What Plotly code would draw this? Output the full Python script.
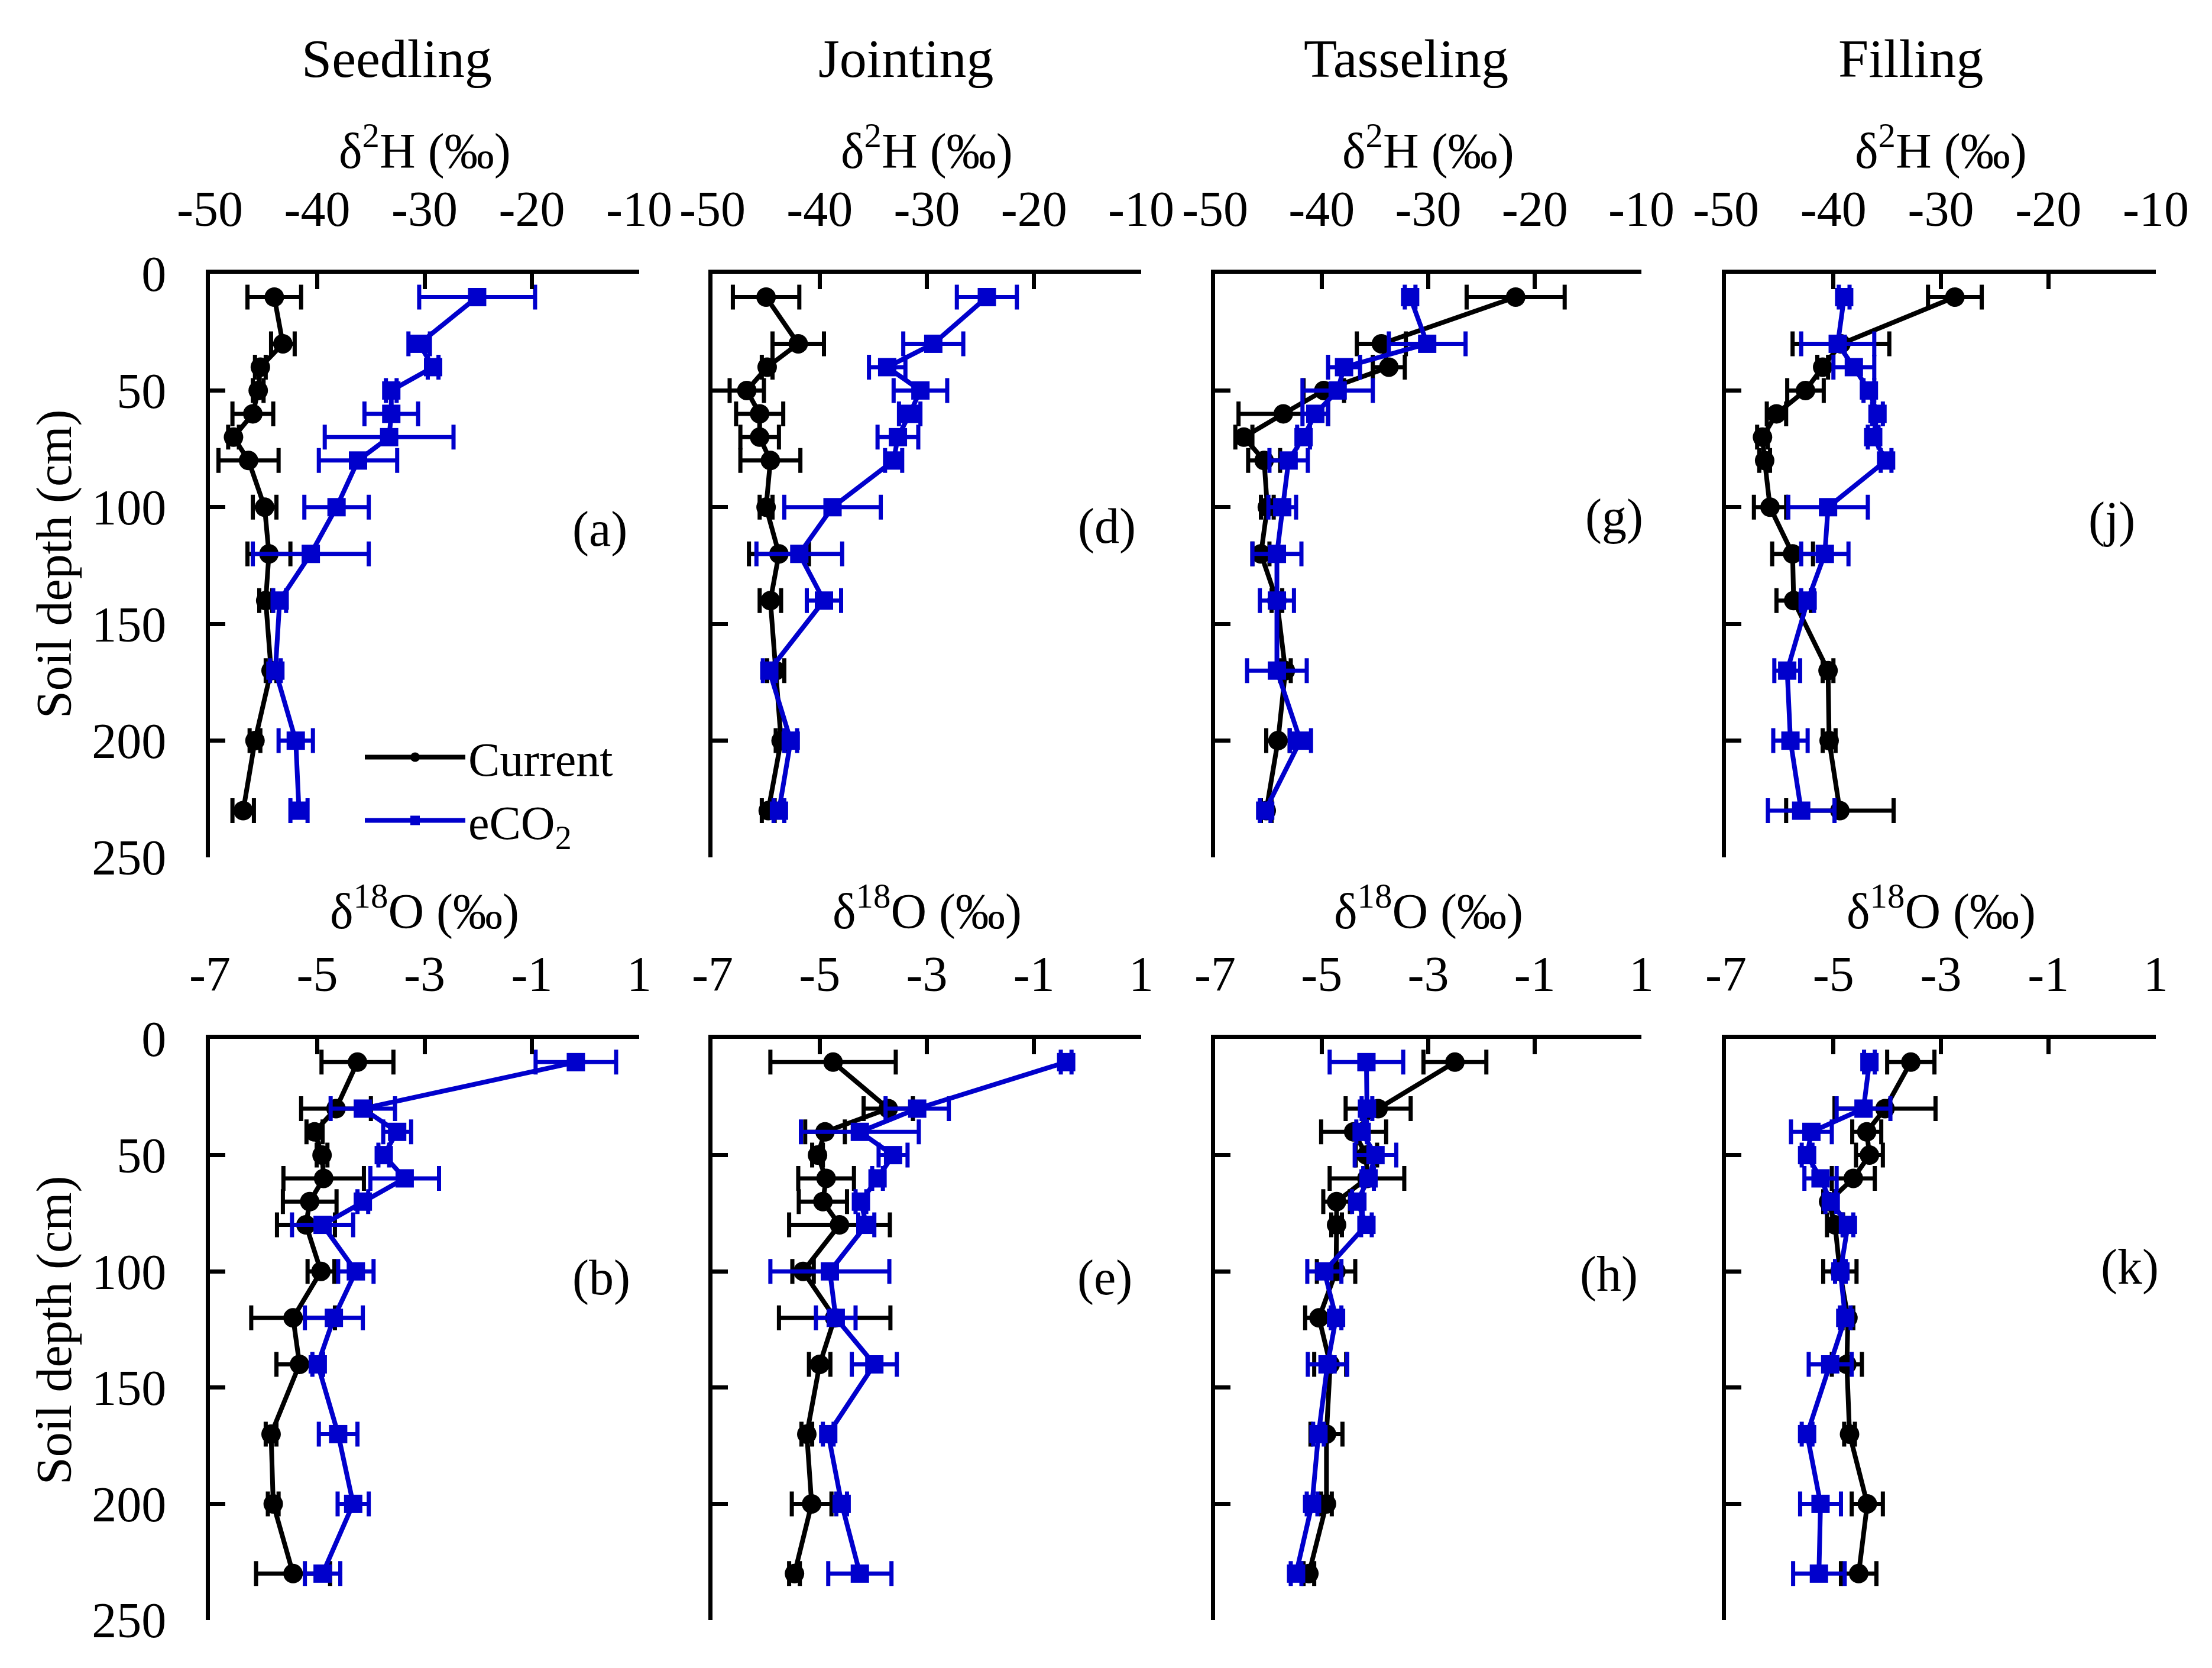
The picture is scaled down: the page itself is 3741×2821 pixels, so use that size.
import plotly.graph_objects as go

W, H = 3741, 2821

depth = [10, 30, 40, 50, 60, 70, 80, 100, 120, 140, 170, 200, 230]

stages = ["Seedling", "Jointing", "Tasseling", "Filling"]
top_labels = ["(a)", "(d)", "(g)", "(j)"]
bottom_labels = ["(b)", "(e)", "(h)", "(k)"]

h_ticks = [-50, -40, -30, -20, -10]
o_ticks = [-7, -5, -3, -1, 1]
depth_ticks = [0, 50, 100, 150, 200, 250]

# delta 2H (per mil), current vs eCO2, with error bars
h_seed_cur = [-44.0, -43.2, -45.3, -45.5, -46.0, -47.8, -46.4, -44.9, -44.5, -44.8, -44.3, -45.8, -46.9]
h_seed_cur_err = [2.5, 1.1, 0.5, 0.5, 1.9, 0.5, 2.8, 1.1, 2.0, 0.6, 0.5, 0.5, 1.0]
h_seed_eco = [-25.1, -30.5, -29.2, -33.1, -33.1, -33.3, -36.2, -38.2, -40.6, -43.5, -43.9, -42.0, -41.7]
h_seed_eco_err = [5.4, 1.0, 0.5, 0.5, 2.5, 6.0, 3.65, 3.0, 5.4, 0.6, 0.5, 1.6, 0.8]

h_join_cur = [-45.0, -42.0, -44.9, -46.8, -45.6, -45.6, -44.6, -45.0, -43.8, -44.6, -44.1, -43.6, -44.8]
h_join_cur_err = [3.1, 2.4, 0.5, 1.6, 2.2, 1.8, 2.8, 0.6, 2.8, 1.0, 0.8, 0.5, 0.6]
h_join_eco = [-24.4, -29.4, -33.7, -30.6, -31.6, -32.7, -33.1, -38.8, -41.9, -39.6, -44.7, -42.7, -43.8]
h_join_eco_err = [2.8, 2.8, 1.7, 2.5, 1.0, 1.9, 0.8, 4.5, 4.0, 1.6, 0.6, 0.6, 0.5]

h_tass_cur = [-21.8, -34.4, -33.7, -39.8, -43.6, -47.3, -45.4, -45.1, -45.7, -44.2, -43.4, -44.1, -45.2]
h_tass_cur_err = [4.6, 2.3, 1.5, 1.9, 4.2, 0.8, 1.5, 0.6, 0.8, 0.5, 0.5, 1.1, 0.5]
h_tass_eco = [-31.7, -30.1, -37.9, -38.5, -40.6, -41.7, -43.1, -43.7, -44.2, -44.2, -44.2, -42.0, -45.3]
h_tass_eco_err = [0.5, 3.6, 1.5, 3.3, 1.2, 0.6, 1.8, 1.3, 2.3, 1.6, 2.8, 1.0, 0.5]

h_fill_cur = [-28.7, -39.3, -41.0, -42.6, -45.3, -46.6, -46.4, -45.9, -43.8, -43.7, -40.5, -40.4, -39.4]
h_fill_cur_err = [2.5, 4.5, 0.5, 1.7, 0.9, 0.5, 0.5, 1.5, 1.9, 1.6, 0.5, 0.6, 5.0]
h_fill_eco = [-39.0, -39.6, -38.1, -36.7, -35.9, -36.3, -35.1, -40.5, -40.8, -42.4, -44.3, -44.0, -43.0]
h_fill_eco_err = [0.5, 3.4, 1.9, 0.5, 0.5, 0.5, 0.5, 3.7, 2.2, 0.6, 1.2, 1.6, 3.1]

# delta 18O (per mil)
o_seed_cur = [-4.25, -4.65, -5.05, -4.91, -4.88, -5.14, -5.21, -4.93, -5.45, -5.33, -5.86, -5.82, -5.45]
o_seed_cur_err = [0.67, 0.65, 0.15, 0.1, 0.75, 0.5, 0.54, 0.25, 0.78, 0.43, 0.1, 0.1, 0.69]
o_seed_eco = [-0.18, -4.15, -3.51, -3.76, -3.37, -4.15, -4.90, -4.28, -4.69, -4.99, -4.61, -4.33, -4.90]
o_seed_eco_err = [0.75, 0.6, 0.26, 0.1, 0.64, 0.1, 0.57, 0.33, 0.54, 0.1, 0.36, 0.29, 0.33]

o_join_cur = [-4.75, -3.72, -4.90, -5.04, -4.88, -4.94, -4.63, -5.31, -4.72, -5.00, -5.24, -5.15, -5.47]
o_join_cur_err = [1.17, 0.46, 0.37, 0.1, 0.52, 0.45, 0.94, 0.2, 1.04, 0.2, 0.1, 0.37, 0.1]
o_join_eco = [-0.40, -3.18, -4.25, -3.63, -3.92, -4.23, -4.13, -4.81, -4.70, -3.98, -4.84, -4.59, -4.25]
o_join_eco_err = [0.1, 0.59, 1.1, 0.27, 0.1, 0.1, 0.15, 1.11, 0.37, 0.42, 0.1, 0.1, 0.59]

o_tass_cur = [-2.50, -3.94, -4.40, -4.16, -4.15, -4.72, -4.72, -4.73, -5.05, -4.84, -4.91, -4.91, -5.24]
o_tass_cur_err = [0.59, 0.61, 0.61, 0.2, 0.70, 0.25, 0.1, 0.36, 0.26, 0.3, 0.3, 0.1, 0.1]
o_tass_eco = [-4.16, -4.15, -4.25, -3.99, -4.12, -4.33, -4.16, -4.95, -4.73, -4.89, -5.06, -5.18, -5.48]
o_tass_eco_err = [0.69, 0.1, 0.1, 0.39, 0.1, 0.1, 0.1, 0.32, 0.1, 0.37, 0.1, 0.1, 0.1]

o_fill_cur = [-3.56, -4.04, -4.38, -4.33, -4.63, -5.09, -4.97, -4.88, -4.73, -4.75, -4.70, -4.37, -4.53]
o_fill_cur_err = [0.44, 0.94, 0.27, 0.25, 0.4, 0.1, 0.15, 0.31, 0.1, 0.28, 0.1, 0.29, 0.33]
o_fill_eco = [-4.33, -4.44, -5.41, -5.49, -5.24, -5.05, -4.73, -4.87, -4.78, -5.06, -5.49, -5.24, -5.27]
o_fill_eco_err = [0.1, 0.5, 0.38, 0.1, 0.3, 0.1, 0.1, 0.1, 0.1, 0.4, 0.1, 0.38, 0.48]

top_data = [
    (h_seed_cur, h_seed_cur_err, h_seed_eco, h_seed_eco_err),
    (h_join_cur, h_join_cur_err, h_join_eco, h_join_eco_err),
    (h_tass_cur, h_tass_cur_err, h_tass_eco, h_tass_eco_err),
    (h_fill_cur, h_fill_cur_err, h_fill_eco, h_fill_eco_err),
]
bottom_data = [
    (o_seed_cur, o_seed_cur_err, o_seed_eco, o_seed_eco_err),
    (o_join_cur, o_join_cur_err, o_join_eco, o_join_eco_err),
    (o_tass_cur, o_tass_cur_err, o_tass_eco, o_tass_eco_err),
    (o_fill_cur, o_fill_cur_err, o_fill_eco, o_fill_eco_err),
]

FONT = "Liberation Serif"
BLACK = "#000000"
BLUE = "#0000CC"
PAGE_OFFSET = 8  # default body margin of the html page


def px_x(p):
    return (p - PAGE_OFFSET) / W


def px_y(p):
    return 1 - (p - PAGE_OFFSET) / H


# panel placement in pixels of the full picture
col_px = [(355, 1081), (1205, 1930), (2055, 2776), (2919, 3646)]
row_px = [(463, 1450), (1757, 2740)]

fig = go.Figure()
n = 0
for r, (data, ticks, xrng) in enumerate([(top_data, h_ticks, [-50, -10]),
                                         (bottom_data, o_ticks, [-7, 1])]):
    for c in range(4):
        n += 1
        xa = "x" if n == 1 else "x%d" % n
        ya = "y" if n == 1 else "y%d" % n
        cur, cur_err, eco, eco_err = data[c]
        fig.add_trace(go.Scatter(
            x=cur, y=depth, xaxis=xa, yaxis=ya, mode="lines+markers",
            name="Current", showlegend=(n == 1),
            line=dict(color=BLACK, width=8),
            marker=dict(symbol="circle", size=33, color=BLACK),
            error_x=dict(type="data", array=cur_err, color=BLACK, thickness=7, width=21),
        ))
        fig.add_trace(go.Scatter(
            x=eco, y=depth, xaxis=xa, yaxis=ya, mode="lines+markers",
            name="eCO<sub>2</sub>", showlegend=(n == 1),
            line=dict(color=BLUE, width=8),
            marker=dict(symbol="square", size=31, color=BLUE),
            error_x=dict(type="data", array=eco_err, color=BLUE, thickness=7, width=21),
        ))

        x0, x1 = col_px[c]
        y0, y1 = row_px[r]
        fig.layout["xaxis" if n == 1 else "xaxis%d" % n] = dict(
            domain=[px_x(x0), px_x(x1)], anchor=ya, side="top",
            range=xrng, tickvals=ticks, ticktext=[str(t) for t in ticks],
            showline=True, linecolor=BLACK, linewidth=7, mirror=False,
            ticks="inside", ticklen=26, tickwidth=7, tickcolor=BLACK,
            showgrid=False, zeroline=False, ticklabelstandoff=40,
            tickfont=dict(family=FONT, size=84, color=BLACK),
        )
        fig.layout["yaxis" if n == 1 else "yaxis%d" % n] = dict(
            domain=[px_y(y1), px_y(y0)], anchor=xa,
            range=[250, 0], tickvals=depth_ticks, showticklabels=(c == 0),
            showline=True, linecolor=BLACK, linewidth=7,
            ticks="inside", ticklen=26, tickwidth=7, tickcolor=BLACK,
            showgrid=False, zeroline=False, ticklabelstandoff=50,
            tickfont=dict(family=FONT, size=84, color=BLACK),
        )

annotations = []
title_px = [671, 1532, 2378, 3231]
for c in range(4):
    annotations.append(dict(text=stages[c], x=px_x(title_px[c]), y=px_y(99),
                            xref="paper", yref="paper", showarrow=False,
                            xanchor="center", yanchor="middle",
                            font=dict(family=FONT, size=92, color=BLACK)))
    mid = (col_px[c][0] + col_px[c][1]) / 2
    annotations.append(dict(text="δ<sup>2</sup>H (‰)", x=px_x(mid), y=px_y(250),
                            xref="paper", yref="paper", showarrow=False,
                            xanchor="center", yanchor="middle",
                            font=dict(family=FONT, size=84, color=BLACK)))
    annotations.append(dict(text="δ<sup>18</sup>O (‰)", x=px_x(mid), y=px_y(1536),
                            xref="paper", yref="paper", showarrow=False,
                            xanchor="center", yanchor="middle",
                            font=dict(family=FONT, size=84, color=BLACK)))

label_px_top = [(1014, 895), (1872, 890), (2730, 874), (3571, 879)]
label_px_bottom = [(1017, 2161), (1868, 2161), (2721, 2155), (3602, 2143)]
for lab, (lx, ly) in zip(top_labels + bottom_labels, label_px_top + label_px_bottom):
    annotations.append(dict(text=lab, x=px_x(lx), y=px_y(ly), xref="paper", yref="paper",
                            xanchor="center", yanchor="middle", showarrow=False,
                            font=dict(family=FONT, size=84, color=BLACK)))

for yc in (954, 2250):
    annotations.append(dict(text="Soil depth (cm)", x=px_x(92), y=px_y(yc), textangle=-90,
                            xref="paper", yref="paper", showarrow=False,
                            xanchor="center", yanchor="middle",
                            font=dict(family=FONT, size=84, color=BLACK)))

fig.update_layout(
    width=W, height=H,
    margin=dict(l=0, r=0, t=0, b=0, pad=0, autoexpand=False),
    paper_bgcolor="white", plot_bgcolor="white",
    annotations=annotations,
    showlegend=True,
    legend=dict(x=px_x(612), y=px_y(1222), xanchor="left", yanchor="top",
                bgcolor="rgba(0,0,0,0)", itemwidth=170, tracegroupgap=0,
                font=dict(family=FONT, size=80, color=BLACK)),
)

fig.write_html("out.html")
